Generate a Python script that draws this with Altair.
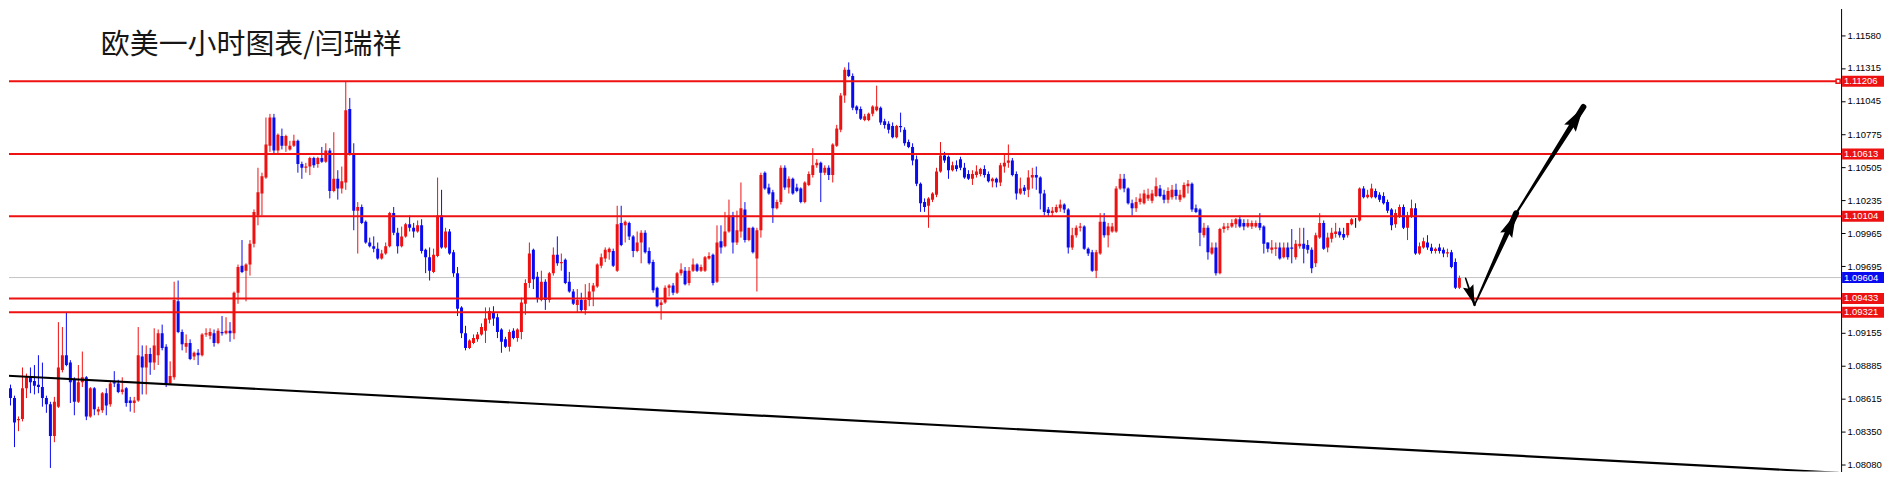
import altair as alt
import pandas as pd

# ---- candle data (EUR/USD, 1 hour) ----
OPEN = [
1.0919,1.0924,1.0870,1.0862,1.0844,1.0845,1.0870,1.0879,1.0876,1.0873,
1.0871,1.0862,1.0857,1.0831,1.0855,1.0885,1.0897,1.0891,1.0877,1.0859,
1.0875,1.0879,1.0847,1.0870,1.0851,1.0852,1.0866,1.0857,1.0875,1.0874,
1.0867,1.0870,1.0860,1.0858,1.0860,1.0896,1.0887,1.0898,1.0891,1.0897,
1.0915,1.0904,1.0874,1.0879,1.0941,1.0916,1.0904,1.0907,1.0896,1.0899,
1.0897,1.0914,1.0913,1.0915,1.0907,1.0916,1.0915,1.0917,1.0915,1.0948,
1.0970,1.0966,1.0971,1.0988,1.1011,1.1029,1.1042,1.1068,1.1091,1.1064,
1.1076,1.1068,1.1065,1.1068,1.1072,1.1053,1.1050,1.1051,1.1058,1.1053,
1.1058,1.1055,1.1064,1.1031,1.1041,1.1033,1.1038,1.1098,1.1062,1.1015,
1.1018,1.1006,1.0989,1.0986,1.0984,1.0976,1.0980,1.0986,1.1013,1.0997,
1.0986,1.0994,1.1004,1.1001,1.0998,1.1003,1.0983,1.0977,1.0965,1.0978,
1.1011,1.0985,1.0998,1.0981,1.0964,1.0936,1.0915,1.0903,1.0907,1.0910,
1.0914,1.0917,1.0926,1.0932,1.0928,1.0918,1.0910,1.0904,1.0917,1.0911,
1.0916,1.0939,1.0956,1.0983,1.0961,1.0942,1.0957,1.0942,1.0964,1.0979,
1.0972,1.0975,1.0957,1.0949,1.0938,1.0942,1.0934,1.0942,1.0949,1.0953,
1.0970,1.0976,1.0981,1.0982,1.0966,1.1005,1.1003,1.1005,1.0994,1.0982,
1.0989,1.0997,1.0982,1.0973,1.0952,1.0938,1.0940,1.0952,1.0954,1.0948,
1.0964,1.0966,1.0956,1.0966,1.0971,1.0966,1.0966,1.0976,1.0979,1.0957,
1.0990,1.0986,1.0998,1.1011,1.0989,1.0998,1.1016,1.0991,1.1001,1.0976,
1.0999,1.1046,1.1034,1.1030,1.1017,1.1022,1.1050,1.1034,1.1041,1.1034,
1.1033,1.1022,1.1036,1.1044,1.1052,1.1054,1.1046,1.1050,1.1044,1.1068,
1.1081,1.1109,1.1130,1.1125,1.1100,1.1098,1.1089,1.1089,1.1094,1.1097,
1.1099,1.1088,1.1086,1.1084,1.1075,1.1084,1.1081,1.1071,1.1067,1.1057,
1.1037,1.1022,1.1019,1.1024,1.1028,1.1047,1.1060,1.1059,1.1048,1.1052,
1.1057,1.1050,1.1045,1.1041,1.1044,1.1045,1.1049,1.1045,1.1039,1.1041,
1.1038,1.1051,1.1054,1.1056,1.1045,1.1029,1.1034,1.1032,1.1042,1.1044,
1.1042,1.1029,1.1016,1.1013,1.1014,1.1017,1.1020,1.1016,1.0985,1.0995,
1.1001,1.1002,1.0984,1.0981,1.0966,1.0980,1.1006,1.0995,1.0998,1.0998,
1.1033,1.1041,1.1033,1.1021,1.1017,1.1022,1.1021,1.1025,1.1023,1.1027,
1.1033,1.1028,1.1024,1.1026,1.1032,1.1024,1.1026,1.1035,1.1037,1.1017,
1.1016,1.0995,1.1001,1.0980,1.0985,1.0964,1.1000,1.1001,1.1002,1.1004,
1.1008,1.1005,1.1002,1.1002,1.1002,1.1005,1.1002,1.0989,1.0983,1.0984,
1.0985,1.0977,1.0985,1.0985,1.0977,1.0986,1.0988,1.0987,1.0983,1.0972,
1.0993,1.1005,1.0985,1.0992,1.0996,1.0998,1.0996,1.0995,1.1004,1.1007,
1.1007,1.1033,1.1026,1.1026,1.1031,1.1028,1.1027,1.1022,1.1016,1.1004,
1.1010,1.1018,1.1001,1.1010,1.1017,1.0980,1.0985,1.0989,1.0985,1.0982,
1.0985,1.0983,1.0980,1.0981,1.0973,1.0952]

HIGH = [
1.0927,1.0925,1.0873,1.0864,1.0847,1.0887,1.0882,1.0887,1.0889,1.0897,
1.0891,1.0864,1.0859,1.0863,1.0924,1.0920,1.0932,1.0893,1.0879,1.0889,
1.0900,1.0880,1.0871,1.0871,1.0855,1.0867,1.0870,1.0876,1.0884,1.0877,
1.0879,1.0871,1.0863,1.0863,1.0920,1.0905,1.0905,1.0903,1.0919,1.0918,
1.0922,1.0906,1.0892,1.0957,1.0958,1.0918,1.0914,1.0910,1.0900,1.0902,
1.0915,1.0919,1.0919,1.0918,1.0919,1.0929,1.0928,1.0924,1.0949,1.0971,
1.0991,1.0972,1.0991,1.1016,1.1050,1.1046,1.1091,1.1094,1.1094,1.1078,
1.1082,1.1077,1.1072,1.1077,1.1073,1.1055,1.1054,1.1059,1.1059,1.1059,
1.1067,1.1070,1.1066,1.1079,1.1048,1.1051,1.1120,1.1107,1.1070,1.1022,
1.1020,1.1007,1.0993,1.0994,1.0989,1.0983,1.0989,1.1014,1.1018,1.1001,
1.1002,1.1005,1.1011,1.1005,1.1007,1.1008,1.0984,1.0985,1.0984,1.1042,
1.1032,1.1001,1.1000,1.0983,1.0969,1.0937,1.0921,1.0910,1.0914,1.0916,
1.0923,1.0936,1.0936,1.0937,1.0931,1.0919,1.0912,1.0918,1.0919,1.0919,
1.0944,1.0959,1.0989,1.0984,1.0965,1.0966,1.0959,1.0965,1.0985,1.0994,
1.0980,1.0976,1.0965,1.0951,1.0951,1.0948,1.0955,1.0956,1.0956,1.0972,
1.0980,1.0985,1.0985,1.0984,1.1019,1.1019,1.1007,1.1006,1.0995,1.0998,
1.0999,1.0999,1.0985,1.0975,1.0953,1.0942,1.0954,1.0955,1.0956,1.0965,
1.0972,1.0969,1.0969,1.0976,1.0972,1.0971,1.0978,1.0981,1.0980,1.1003,
1.1003,1.1014,1.1024,1.1014,1.1015,1.1038,1.1022,1.1001,1.1002,1.1001,
1.1046,1.1047,1.1037,1.1032,1.1024,1.1052,1.1052,1.1043,1.1042,1.1037,
1.1034,1.1039,1.1047,1.1066,1.1057,1.1055,1.1052,1.1052,1.1070,1.1085,
1.1111,1.1132,1.1136,1.1127,1.1101,1.1100,1.1094,1.1095,1.1101,1.1117,
1.1100,1.1090,1.1088,1.1087,1.1085,1.1095,1.1083,1.1073,1.1070,1.1060,
1.1038,1.1025,1.1026,1.1030,1.1050,1.1071,1.1063,1.1060,1.1055,1.1056,
1.1059,1.1054,1.1048,1.1048,1.1052,1.1050,1.1052,1.1047,1.1042,1.1042,
1.1054,1.1062,1.1069,1.1058,1.1047,1.1042,1.1036,1.1048,1.1050,1.1051,
1.1043,1.1032,1.1018,1.1018,1.1020,1.1024,1.1021,1.1017,1.1001,1.1003,
1.1005,1.1003,1.0985,1.0983,1.0983,1.1013,1.1013,1.1005,1.1005,1.1035,
1.1045,1.1045,1.1034,1.1024,1.1026,1.1029,1.1032,1.1033,1.1032,1.1042,
1.1036,1.1032,1.1034,1.1036,1.1037,1.1032,1.1038,1.1040,1.1038,1.1020,
1.1017,1.1005,1.1003,1.0989,1.0989,1.1001,1.1005,1.1005,1.1008,1.1009,
1.1011,1.1008,1.1008,1.1007,1.1007,1.1013,1.1003,1.0989,1.0991,1.0989,
1.0989,1.0989,1.0989,1.1000,1.0991,1.1001,1.1001,1.0991,1.0985,1.0997,
1.1013,1.1007,1.0997,1.1001,1.1005,1.1001,1.1001,1.1005,1.1009,1.1009,
1.1034,1.1035,1.1032,1.1037,1.1033,1.1030,1.1030,1.1024,1.1017,1.1016,
1.1020,1.1020,1.1014,1.1024,1.1021,1.0989,1.0993,1.0995,1.0988,1.0985,
1.0988,1.0985,1.0984,1.0983,1.0976,1.0962]

LOW = [
1.0918,1.0862,1.0856,1.0822,1.0835,1.0843,1.0862,1.0866,1.0865,1.0866,
1.0855,1.0850,1.0805,1.0826,1.0854,1.0883,1.0888,1.0858,1.0848,1.0858,
1.0871,1.0844,1.0846,1.0848,1.0848,1.0850,1.0848,1.0855,1.0871,1.0866,
1.0865,1.0855,1.0851,1.0850,1.0859,1.0865,1.0865,1.0881,1.0885,1.0889,
1.0901,1.0871,1.0873,1.0877,1.0915,1.0901,1.0899,1.0893,1.0893,1.0889,
1.0896,1.0912,1.0910,1.0904,1.0906,1.0913,1.0914,1.0908,1.0910,1.0939,
1.0964,1.0941,1.0962,1.0985,1.1003,1.1011,1.1041,1.1063,1.1062,1.1062,
1.1065,1.1063,1.1064,1.1067,1.1046,1.1041,1.1046,1.1044,1.1050,1.1050,
1.1054,1.1054,1.1025,1.1030,1.1024,1.1029,1.1032,1.1060,1.0999,1.0980,
1.1004,1.0988,1.0985,1.0981,1.0975,1.0975,1.0979,1.0985,1.0995,1.0980,
1.0985,1.0993,1.0998,1.0993,1.0997,1.0980,1.0964,1.0958,1.0964,1.0977,
1.0984,1.0984,1.0979,1.0961,1.0929,1.0911,1.0901,1.0902,1.0906,1.0908,
1.0913,1.0907,1.0923,1.0921,1.0911,1.0899,1.0903,1.0900,1.0910,1.0908,
1.0910,1.0930,1.0952,1.0951,1.0940,1.0941,1.0934,1.0940,1.0962,1.0970,
1.0966,1.0955,1.0948,1.0938,1.0932,1.0932,1.0930,1.0937,1.0937,1.0952,
1.0968,1.0973,1.0975,1.0969,1.0965,1.0986,1.0989,1.0991,1.0977,1.0981,
1.0972,1.0980,1.0971,1.0948,1.0936,1.0926,1.0939,1.0945,1.0946,1.0947,
1.0962,1.0954,1.0954,1.0965,1.0965,1.0965,1.0965,1.0975,1.0954,1.0956,
1.0980,1.0985,1.0997,1.0980,1.0987,1.0993,1.0989,1.0990,1.0980,1.0949,
1.0993,1.1032,1.1028,1.1005,1.1016,1.1020,1.1032,1.1029,1.1028,1.1030,
1.1021,1.1021,1.1035,1.1042,1.1050,1.1022,1.1044,1.1040,1.1038,1.1067,
1.1079,1.1103,1.1124,1.1097,1.1094,1.1089,1.1088,1.1088,1.1092,1.1096,
1.1085,1.1082,1.1078,1.1074,1.1074,1.1079,1.1068,1.1066,1.1052,1.1035,
1.1014,1.1014,1.1001,1.1022,1.1026,1.1046,1.1054,1.1041,1.1047,1.1047,
1.1048,1.1041,1.1040,1.1036,1.1042,1.1043,1.1042,1.1038,1.1034,1.1034,
1.1035,1.1046,1.1050,1.1043,1.1024,1.1028,1.1028,1.1026,1.1033,1.1032,
1.1016,1.1011,1.1010,1.1010,1.1013,1.1014,1.1013,1.0980,1.0983,1.0993,
1.0998,1.0983,1.0978,1.0965,1.0960,1.0979,1.0993,1.0985,1.0997,1.0997,
1.1032,1.1030,1.1020,1.1011,1.1014,1.1020,1.1020,1.1023,1.1021,1.1026,
1.1026,1.1021,1.1021,1.1024,1.1024,1.1022,1.1025,1.1029,1.1014,1.1013,
1.0986,1.0993,1.0975,1.0979,1.0962,1.0963,1.0997,1.0999,1.1001,1.1001,
1.1001,1.0999,1.1001,1.1000,1.1001,1.0999,1.0980,1.0981,1.0980,1.0978,
1.0975,1.0976,1.0975,1.0972,1.0975,1.0984,1.0972,1.0980,1.0964,1.0969,
1.0992,1.0983,1.0981,1.0989,1.0993,1.0993,1.0991,1.0993,1.1003,1.1001,
1.1006,1.1025,1.1025,1.1025,1.1025,1.1022,1.1020,1.1013,1.0999,1.1001,
1.1009,1.1000,1.0991,1.1009,1.0979,1.0979,1.0984,1.0983,1.0980,1.0980,
1.0980,1.0977,1.0977,1.0968,1.0951,1.0951]

CLOSE = [
1.0925,1.0872,1.0862,1.0842,1.0845,1.0870,1.0879,1.0875,1.0872,1.0871,
1.0862,1.0857,1.0831,1.0859,1.0887,1.0897,1.0889,1.0875,1.0859,1.0875,
1.0879,1.0847,1.0870,1.0853,1.0853,1.0866,1.0856,1.0874,1.0874,1.0867,
1.0869,1.0858,1.0858,1.0860,1.0897,1.0887,1.0898,1.0891,1.0905,1.0915,
1.0903,1.0874,1.0880,1.0942,1.0916,1.0906,1.0907,1.0894,1.0899,1.0897,
1.0914,1.0915,1.0916,1.0907,1.0917,1.0915,1.0917,1.0915,1.0948,1.0969,
1.0965,1.0971,1.0988,1.1014,1.1030,1.1043,1.1069,1.1091,1.1064,1.1077,
1.1068,1.1076,1.1068,1.1072,1.1053,1.1050,1.1051,1.1058,1.1052,1.1058,
1.1055,1.1064,1.1031,1.1041,1.1033,1.1039,1.1097,1.1062,1.1015,1.1018,
1.1005,1.0989,1.0986,1.0984,1.0976,1.0980,1.0986,1.1013,1.0997,1.0986,
1.0994,1.1004,1.1001,1.0998,1.1003,1.0982,1.0977,1.0966,1.0979,1.1011,
1.0985,1.0998,1.0980,1.0964,1.0935,1.0915,1.0903,1.0909,1.0911,1.0914,
1.0920,1.0927,1.0933,1.0927,1.0916,1.0908,1.0904,1.0916,1.0911,1.0918,
1.0940,1.0956,1.0980,1.0959,1.0943,1.0957,1.0942,1.0964,1.0979,1.0972,
1.0973,1.0956,1.0949,1.0939,1.0942,1.0934,1.0942,1.0949,1.0954,1.0971,
1.0977,1.0983,1.0984,1.0970,1.1004,1.0987,1.1006,1.0994,1.0982,1.0989,
1.0997,1.0981,1.0972,1.0950,1.0937,1.0940,1.0952,1.0954,1.0948,1.0964,
1.0967,1.0955,1.0966,1.0971,1.0966,1.0969,1.0977,1.0978,1.0956,1.0989,
1.0985,1.0998,1.1011,1.0989,1.0999,1.1017,1.0991,1.1001,1.0981,1.0999,
1.1044,1.1033,1.1029,1.1017,1.1022,1.1050,1.1034,1.1041,1.1029,1.1031,
1.1022,1.1038,1.1045,1.1052,1.1054,1.1046,1.1050,1.1044,1.1069,1.1082,
1.1109,1.1130,1.1125,1.1099,1.1097,1.1090,1.1092,1.1094,1.1100,1.1100,
1.1087,1.1085,1.1081,1.1075,1.1084,1.1083,1.1070,1.1067,1.1056,1.1037,
1.1021,1.1018,1.1025,1.1029,1.1047,1.1060,1.1056,1.1048,1.1052,1.1049,
1.1050,1.1042,1.1041,1.1045,1.1047,1.1049,1.1044,1.1039,1.1041,1.1038,
1.1052,1.1054,1.1056,1.1044,1.1029,1.1033,1.1031,1.1042,1.1044,1.1042,
1.1029,1.1014,1.1013,1.1015,1.1018,1.1020,1.1016,1.0985,1.0995,1.1001,
1.1002,1.0984,1.0980,1.0966,1.0981,1.1006,1.0995,1.1002,1.1002,1.1033,
1.1041,1.1033,1.1021,1.1017,1.1022,1.1025,1.1029,1.1028,1.1029,1.1035,
1.1027,1.1024,1.1031,1.1032,1.1027,1.1028,1.1036,1.1037,1.1016,1.1014,
1.0997,1.1001,1.0981,1.0985,1.0964,1.1000,1.1002,1.1002,1.1005,1.1008,
1.1002,1.1002,1.1005,1.1005,1.1005,1.1001,1.0988,1.0984,1.0985,1.0985,
1.0976,1.0985,1.0977,1.0984,1.0988,1.0988,1.0984,1.0983,1.0968,1.0995,
1.1005,1.0984,1.0993,1.0997,1.0998,1.0995,1.0993,1.1005,1.1008,1.1007,
1.1033,1.1026,1.1028,1.1033,1.1026,1.1024,1.1021,1.1015,1.1003,1.1013,
1.1018,1.1001,1.1011,1.1017,1.0980,1.0986,1.0990,1.0985,1.0982,1.0984,
1.0982,1.0980,1.0981,1.0969,1.0952,1.0960]

# ---- annotations ----
LEVELS = [1.11206, 1.10613, 1.10104, 1.09433, 1.09321]
CURRENT = 1.09604
TAG_PRICES = [1.11206, 1.10613, 1.10104, 1.09604, 1.09433, 1.09321]
TAG_KIND = ["level", "level", "level", "current", "level", "level"]
TICKS = [1.11580, 1.11315, 1.11045, 1.10775, 1.10505, 1.10235, 1.09965,
         1.09695, 1.09155, 1.08885, 1.08615, 1.08350, 1.08080]
TREND_X = [0, 460]
TREND_Y = [1.08805, 1.08011]
ARROW_X = [366.55, 368.8, 379.2, 396.05]
ARROW_Y = [1.09598, 1.09381, 1.10128, 1.10996]
TITLE = "欧美一小时图表/闫瑞祥"

RED = "#ee1111"
BLUE = "#0a0af0"
W, H = 1836, 464
XS = alt.Scale(domain=[1.625, 460.625], nice=False, zero=False)
YS = alt.Scale(domain=[1.08021, 1.11800], nice=False, zero=False)
YAX = alt.Axis(orient="right", values=TICKS, format=".5f", title=None, grid=False,
               domainColor="black", tickColor="black", tickSize=4, labelPadding=2,
               labelFont="Liberation Sans", labelFontSize=9.5, labelColor="black")

n = len(OPEN)
candles = pd.DataFrame({
    "i": list(range(n)), "open": OPEN, "high": HIGH, "low": LOW, "close": CLOSE,
})
candles["dir"] = ["up" if c > o else ("down" if c < o else "flat")
                  for o, c in zip(OPEN, CLOSE)]
ccol = alt.Color("dir:N", scale=alt.Scale(domain=["up", "down", "flat"],
                                          range=[RED, BLUE, "black"]), legend=None)

wicks = alt.Chart(candles).mark_rule(strokeWidth=1, clip=True).encode(
    x=alt.X("i:Q", scale=XS, axis=None),
    y=alt.Y("low:Q", scale=YS, axis=YAX), y2="high:Q", color=ccol)
bodies = alt.Chart(candles).mark_rule(strokeWidth=3, clip=True).encode(
    x=alt.X("i:Q", scale=XS, axis=None),
    y=alt.Y("open:Q", scale=YS, axis=YAX), y2="close:Q", color=ccol)

cur_line = alt.Chart(pd.DataFrame({"p": [CURRENT]})).mark_rule(
    color="#c4c4c4", strokeWidth=1).encode(y=alt.Y("p:Q", scale=YS, axis=YAX))
level_lines = alt.Chart(pd.DataFrame({"p": LEVELS})).mark_rule(
    color=RED, strokeWidth=2).encode(y=alt.Y("p:Q", scale=YS, axis=YAX))
anchor = alt.Chart(pd.DataFrame({"p": LEVELS[:1]})).mark_point(
    shape="square", size=16, filled=True, fill="white", stroke=RED,
    strokeWidth=1.5, opacity=1).encode(x=alt.value(W - 3),
                                       y=alt.Y("p:Q", scale=YS, axis=YAX))

trend = alt.Chart(pd.DataFrame({"x": TREND_X, "y": TREND_Y})).mark_line(
    color="black", strokeWidth=2.2, clip=True).encode(
    x=alt.X("x:Q", scale=XS, axis=None), y=alt.Y("y:Q", scale=YS, axis=YAX))

# arrows: tapered shafts + heads
seg_rows = []
widths = [(1.5, 2.5), (1.5, 6.0), (2.0, 6.0)]
for s in range(3):
    seg_rows.append({"seg": s, "ord": 0, "x": ARROW_X[s], "y": ARROW_Y[s], "w": widths[s][0]})
    seg_rows.append({"seg": s, "ord": 1, "x": ARROW_X[s + 1], "y": ARROW_Y[s + 1], "w": widths[s][1]})
shafts = alt.Chart(pd.DataFrame(seg_rows)).mark_trail(color="black").encode(
    x=alt.X("x:Q", scale=XS, axis=None), y=alt.Y("y:Q", scale=YS, axis=YAX),
    size=alt.Size("w:Q", scale=None, legend=None), detail="seg:N", order="ord:Q")
heads_df = pd.DataFrame({
    "x": ARROW_X[1:], "y": ARROW_Y[1:],
    "ang": [161.3, 24.4, 32.3], "sz": [400, 576, 625],
})
heads = alt.Chart(heads_df).mark_point(
    shape="M0,0L0.55,2L0,1.7L-0.55,2Z", filled=True, color="black", opacity=1,
    strokeWidth=0).encode(
    x=alt.X("x:Q", scale=XS, axis=None), y=alt.Y("y:Q", scale=YS, axis=YAX),
    angle=alt.Angle("ang:Q", scale=None), size=alt.Size("sz:Q", scale=None, legend=None))

title = alt.Chart(pd.DataFrame({"t": [TITLE]})).mark_text(
    font="Noto Sans CJK SC", fontSize=29, color="#161616", align="left",
    baseline="middle").encode(x=alt.value(92), y=alt.value(37), text="t:N")

tags_df = pd.DataFrame({"p": TAG_PRICES, "kind": TAG_KIND,
                        "label": [f"{v:.5f}" for v in TAG_PRICES]})
tag_boxes = alt.Chart(tags_df).mark_point(
    shape="M0,-0.262L2,-0.262L2,0.262L0,0.262Z", filled=True, opacity=1,
    size=1764, strokeWidth=0).encode(
    x=alt.value(W + 1), y=alt.Y("p:Q", scale=YS, axis=YAX),
    color=alt.Color("kind:N", scale=alt.Scale(domain=["level", "current"],
                                              range=[RED, "black"]), legend=None))
tag_text = alt.Chart(tags_df).mark_text(
    font="Liberation Sans", fontSize=9.5, color="white", align="left",
    baseline="middle").encode(x=alt.value(W + 3),
                              y=alt.Y("p:Q", scale=YS, axis=YAX), text="label:N")

chart = alt.layer(
    cur_line, wicks, bodies, level_lines, trend, anchor, shafts, heads,
    title, tag_boxes, tag_text
).properties(width=W, height=H, padding=0, background="white"
).configure_view(stroke=None)

chart.save("out.html", embed_options={"renderer": "svg", "actions": False})
